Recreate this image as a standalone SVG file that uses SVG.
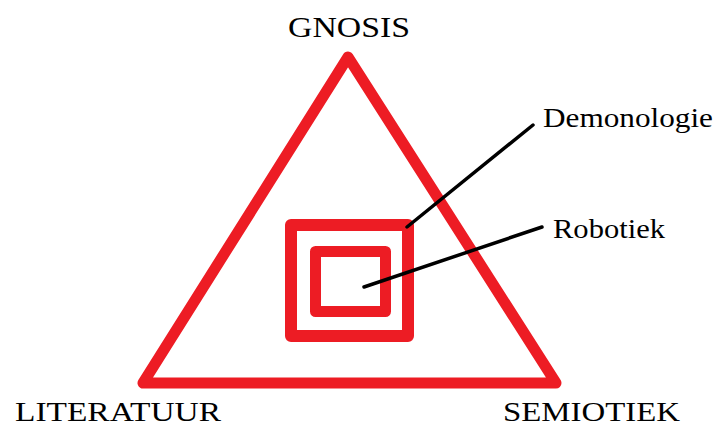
<svg xmlns="http://www.w3.org/2000/svg" width="717" height="428" viewBox="0 0 717 428">
<style>
.red{fill:none;stroke:#ED1C24;stroke-linejoin:round}
.lbl{font-family:"Liberation Serif","DejaVu Serif",serif;fill:#000}
.conn{stroke:#000;stroke-width:3.5;stroke-linecap:round}
</style>
<rect width="717" height="428" fill="#fff"/>
<g id="triangle"><path class="red" stroke-width="11" d="M348,57 L143,383 L556,383 Z"/></g>
<g id="demonologie-box"><rect class="red" stroke-width="12" x="291" y="225" width="117" height="111" stroke-linejoin="miter"/></g>
<g id="robotiek-box"><rect class="red" stroke-width="11" x="315.5" y="251.5" width="70" height="60" stroke-linejoin="miter"/></g>
<g id="connectors">
<line class="conn" x1="407" y1="227" x2="533" y2="125"/>
<line class="conn" x1="364" y1="287" x2="542" y2="227"/>
</g>
<g id="gnosis"><text class="lbl" x="288" y="37" font-size="30" textLength="122" lengthAdjust="spacingAndGlyphs">GNOSIS</text></g>
<g id="demonologie"><text class="lbl" x="543" y="127" font-size="27" textLength="170" lengthAdjust="spacingAndGlyphs">Demonologie</text></g>
<g id="robotiek"><text class="lbl" x="553" y="238" font-size="27" textLength="112" lengthAdjust="spacingAndGlyphs">Robotiek</text></g>
<g id="literatuur"><text class="lbl" x="15" y="421" font-size="28" textLength="206" lengthAdjust="spacingAndGlyphs">LITERATUUR</text></g>
<g id="semiotiek"><text class="lbl" x="503" y="421" font-size="28" textLength="177" lengthAdjust="spacingAndGlyphs">SEMIOTIEK</text></g>
</svg>
